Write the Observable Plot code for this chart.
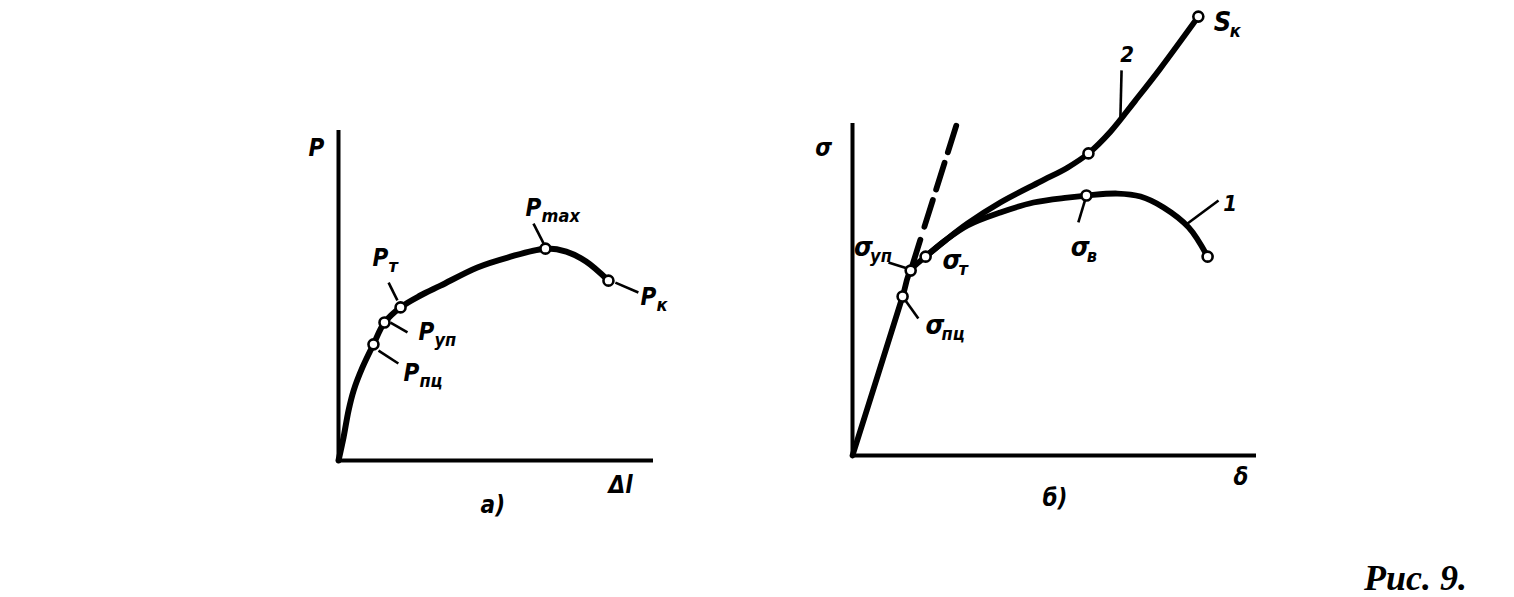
<!DOCTYPE html>
<html>
<head>
<meta charset="utf-8">
<script src="https://cdn.jsdelivr.net/npm/d3@7"></script>
<script src="https://cdn.jsdelivr.net/npm/@observablehq/plot@0.6"></script>
<style>
  html, body { margin: 0; padding: 0; background: #fff; }
  #wrap { position: relative; width: 1514px; height: 597px; overflow: hidden; }
  #wrap > svg { position: absolute; left: 0; top: 0; }
  #caption { position: absolute; left: 1364px; top: 560px; font-family: "Liberation Serif", serif; line-height: 1;
             font-style: italic; font-weight: bold; font-size: 36px; color: #000; }
</style>
</head>
<body>
<div id="wrap"><div id="caption">Рис. 9.</div></div>
<script>
// ---------- Panel a) : load P vs elongation Δl (arbitrary units) ----------
const aDelta = [0, 1.6, 3.2, 4.8, 7.6, 11.1, 14.6, 19.7, 26.0, 32.4, 44.1, 53.7, 65.7, 72.3, 78.6, 85.7];
const aLoad  = [0, 7.0, 15.2, 21.2, 28.2, 35.2, 41.8, 46.4, 50.0, 53.0, 58.5, 61.5, 64.2, 63.3, 60.3, 54.5];

const aPointMain = ["P", "P", "P", "P", "P"];
const aPointSub  = ["пц", "уп", "т", "max", "к"];
const aPointX    = [11.1, 14.6, 19.7, 65.7, 85.7];
const aPointY    = [35.2, 41.8, 46.4, 64.2, 54.5];
// leader ends and label anchors (annotation positions, data units)
const aLeadX1 = [12.7, 16.5, 18.7, 65.1, 87.9];
const aLeadY1 = [33.3, 41.8, 48.5, 65.8, 53.9];
const aLeadX2 = [19.0, 21.9, 15.9, 61.9, 95.2];
const aLeadY2 = [29.4, 38.8, 53.9, 71.8, 50.9];
const aLabelX = [20.6, 25.4, 10.8, 59.4, 95.9];
const aLabelY = [24.2, 36.4, 58.8, 74.2, 47.0];
const aAxisText = ["P", "Δl", "а)"];
const aAxisX    = [-9.5, 85.7, 45.1];
const aAxisY    = [92.4, -9.7, -15.8];

// ---------- Panel б) : stress σ vs strain δ (arbitrary units) ----------
const bDelta1 = [0, 12.4, 14.4, 18.1, 23.0, 28.5, 36.6, 44.8, 53.2, 57.9, 65.6, 71.3, 77.0, 83.2, 87.9];
const bSigma1 = [0, 47.9, 55.7, 59.9, 64.8, 69.3, 73.2, 76.2, 77.7, 78.3, 78.9, 78.0, 74.7, 68.7, 59.9];
const bDelta2 = [18.1, 23.0, 28.5, 36.6, 46.5, 53.2, 58.4, 63.9, 70.0, 76.2, 85.6];
const bSigma2 = [59.9, 64.8, 69.9, 76.2, 82.5, 86.7, 91.0, 97.6, 106.9, 116.6, 132.2];
const bElasticDelta = [14.4, 16.8];
const bElasticSigma = [55.7, 65.0];
const bDashDelta = [17.8, 25.85];
const bDashSigma = [68.9, 100];

const bPointMain = ["σ", "σ", "σ", "σ", "", "", "S"];
const bPointSub  = ["пц", "уп", "т", "в", "", "", "к"];
const bPointX    = [12.4, 14.4, 18.1, 57.9, 87.9, 58.4, 85.6];
const bPointY    = [47.9, 55.7, 59.9, 78.3, 59.9, 91.0, 132.2];
const bLabelX    = [18.1, 0.4, 22.3, 54.0, null, null, 89.4];
const bLabelY    = [36.7, 60.2, 56.3, 60.2, null, null, 128.0];
const bLeadX1 = [12.4, 14.4, 57.9, 82.6, 66.3];
const bLeadY1 = [47.9, 56.0, 78.3, 69.6, 101.3];
const bLeadX2 = [16.3, 8.9, 55.9, 90.6, 66.6];
const bLeadY2 = [41.3, 58.1, 70.2, 76.8, 116.0];
const bCurveNames = ["1", "2"];
const bCurveNameX = [91.8, 66.3];
const bCurveNameY = [73.5, 118.4];
const bAxisText = ["σ", "δ", "б)"];
const bAxisX    = [-9.2, 94.3, 47.0];
const bAxisY    = [90.1, -9.0, -15.1];

// ---------- build tables ----------
const zip2 = (xs, ys) => xs.map((x, i) => ({x, y: ys[i]}));
const aCurve = zip2(aDelta, aLoad);
const aPts = aPointX.map((x, i) => ({x, y: aPointY[i]}));
const aLeads = aLeadX1.map((x1, i) => ({x1, y1: aLeadY1[i], x2: aLeadX2[i], y2: aLeadY2[i]}));
const aLabels = aLabelX.map((x, i) => ({x, y: aLabelY[i], main: aPointMain[i], sub: aPointSub[i]}));
const aAxis = aAxisText.map((t, i) => ({t, x: aAxisX[i], y: aAxisY[i]}));

const bC1 = zip2(bDelta1, bSigma1);
const bC2 = zip2(bDelta2, bSigma2);
const bEl = zip2(bElasticDelta, bElasticSigma);
const bDash = zip2(bDashDelta, bDashSigma);
const bPts = bPointX.map((x, i) => ({x, y: bPointY[i]}));
const bLeads = bLeadX1.map((x1, i) => ({x1, y1: bLeadY1[i], x2: bLeadX2[i], y2: bLeadY2[i]}));
const bLabels = bLabelX.map((x, i) => ({x, y: bLabelY[i], main: bPointMain[i], sub: bPointSub[i]})).filter(d => d.x != null);
const bNames = bCurveNames.map((t, i) => ({t, x: bCurveNameX[i], y: bCurveNameY[i]}));
const bAxis = bAxisText.map((t, i) => ({t, x: bAxisX[i], y: bAxisY[i]}));

const FONT = "'DejaVu Sans Condensed', 'DejaVu Sans', sans-serif";
const txt = {fontFamily: FONT, fontStyle: "oblique", fontWeight: "bold", textAnchor: "start", lineAnchor: "bottom", fill: "black"};

function panel({xRange, yRange, curves, curveWidth, extra, pts, leads, labels, axisTexts, names, mainSize}) {
  return Plot.plot({
    width: 1514, height: 597,
    marginTop: 0, marginRight: 0, marginBottom: 0, marginLeft: 0,
    x: {domain: [0, 100], range: xRange},
    y: {domain: [0, 100], range: yRange},
    axis: null,
    style: {background: "transparent", overflow: "visible"},
    marks: [
      Plot.ruleY([0], {x1: 0, x2: 100, stroke: "black", strokeWidth: 4}),
      Plot.ruleX([0], {y1: 0, y2: 100, stroke: "black", strokeWidth: 4}),
      ...extra,
      ...curves.map(c => Plot.line(c, {x: "x", y: "y", curve: "catmull-rom", stroke: "black", strokeWidth: curveWidth, strokeLinecap: "round", strokeLinejoin: "round"})),
      Plot.link(leads, {x1: "x1", y1: "y1", x2: "x2", y2: "y2", stroke: "black", strokeWidth: 2.6}),
      Plot.dot(pts, {x: "x", y: "y", r: 5, fill: "white", stroke: "black", strokeWidth: 2.6}),
      Plot.text(labels, {x: "x", y: "y", text: "main", fontSize: mainSize, ...txt}),
      Plot.text(labels, {x: "x", y: "y", text: "sub", fontSize: 18, dx: 16, dy: 6, ...txt}),
      Plot.text(axisTexts, {x: "x", y: "y", text: "t", fontSize: 24, ...txt}),
      ...(names ? [Plot.text(names, {x: "x", y: "y", text: "t", fontSize: 22, ...txt})] : [])
    ]
  });
}

const wrap = document.getElementById("wrap");
wrap.appendChild(panel({
  xRange: [338, 653], yRange: [460, 130],
  curves: [aCurve], curveWidth: 6, extra: [], mainSize: 24,
  pts: aPts, leads: aLeads, labels: aLabels, axisTexts: aAxis
}));
wrap.appendChild(panel({
  xRange: [852, 1256], yRange: [455, 123],
  curves: [bC1, bC2, bEl], curveWidth: 5.8, mainSize: 27,
  extra: [Plot.line(bDash, {x: "x", y: "y", stroke: "black", strokeWidth: 5.8, strokeDasharray: "28,11"})],
  pts: bPts, leads: bLeads, labels: bLabels, axisTexts: bAxis, names: bNames
}));
</script>
</body>
</html>
